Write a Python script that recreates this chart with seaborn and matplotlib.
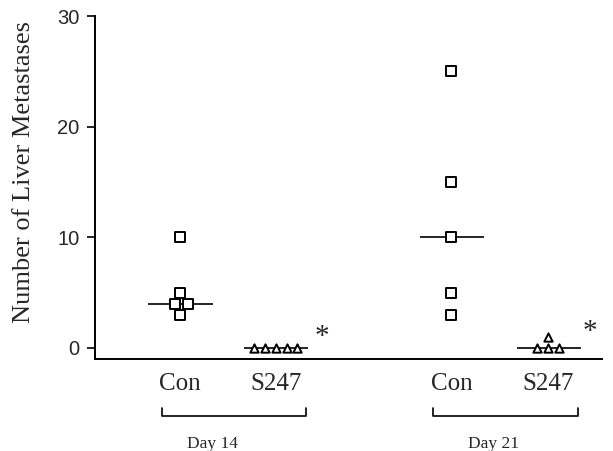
import numpy as np
import pandas as pd
import seaborn as sns
import matplotlib.pyplot as plt
import matplotlib.transforms as mtransforms

# %% veriler
groups = ["Con", "S247", "Con", "S247"]
days = ["Day 14", "Day 21"]
con_d14 = [10, 5, 4, 4, 3]
s247_d14 = [0, 0, 0, 0, 0]
con_d21 = [25, 15, 10, 5, 3]
s247_d21 = [0, 0, 0, 1]
yticks = [0, 10, 20, 30]

# grupların x konumları
pos = [0, 1, 2.83, 3.84]

values = [con_d14, s247_d14, con_d21, s247_d21]
df = pd.DataFrame({
    "x": np.concatenate([[p] * len(v) for p, v in zip(pos, values)]),
    "group": np.concatenate([[g] * len(v) for g, v in zip(groups, values)]),
    "n": np.concatenate(values),
})

# %% grafik
sns.set_style("ticks")
plt.rcParams["font.family"] = ["Liberation Serif", "DejaVu Serif"]

fig = plt.figure(figsize=(6.13, 4.51), dpi=100)
ax = fig.add_axes([95 / 613, (451 - 359) / 451, 507 / 613, 343 / 451])

con = df[df["group"] == "Con"]
trt = df[df["group"] == "S247"]
sns.swarmplot(data=con, x="x", y="n", native_scale=True, marker="s", size=7.2,
              color="white", edgecolor="black", linewidth=1.4, ax=ax)
sns.swarmplot(data=trt, x="x", y="n", native_scale=True, marker="^", size=6.0,
              color="white", edgecolor="black", linewidth=1.4, ax=ax)

# medyan çizgileri
for p, v in zip(pos, values):
    ax.hlines(np.median(v), p - 0.33, p + 0.34, color="black", lw=1.2, zorder=1)

# yıldızlar (p < 0.05)
ax.text(pos[1] + 0.48, 1.0, "*", fontsize=21, ha="center", va="center")
ax.text(pos[3] + 0.43, 1.4, "*", fontsize=21, ha="center", va="center")

ax.set_xlim(-0.885, 4.40)
ax.set_ylim(-1.0, 30)
ax.set_yticks(yticks)
ax.set_yticklabels([str(t) for t in yticks], family="Liberation Sans", fontsize=14.5)
ax.set_xticks(pos)
ax.set_xticklabels(groups, fontsize=18)
ax.tick_params(axis="x", length=0, pad=10)
ax.tick_params(axis="y", length=6, width=1.2, direction="out", color="black", pad=5)
ax.set_xlabel("")
ax.set_ylabel("Number of Liver Metastases", fontsize=19)
ax.yaxis.set_label_coords(-0.118, 0.545)

for s in ["top", "right"]:
    ax.spines[s].set_visible(False)
for s in ["left", "bottom"]:
    ax.spines[s].set_linewidth(1.4)
    ax.spines[s].set_color("black")

# gün parantezleri
trans = mtransforms.blended_transform_factory(ax.transData, ax.transAxes)
for i, label, tx in [(0, days[0], 0.34), (2, days[1], 3.27)]:
    x0 = pos[i] - 0.19
    x1 = pos[i + 1] + 0.31
    ax.plot([x0, x0, x1, x1], [-0.143, -0.166, -0.166, -0.143], color="black",
            lw=1.2, transform=trans, clip_on=False)
    ax.text(tx, -0.248, label, fontsize=12.5, ha="center", va="center",
            transform=trans)

fig.savefig("out.png", dpi=100)
